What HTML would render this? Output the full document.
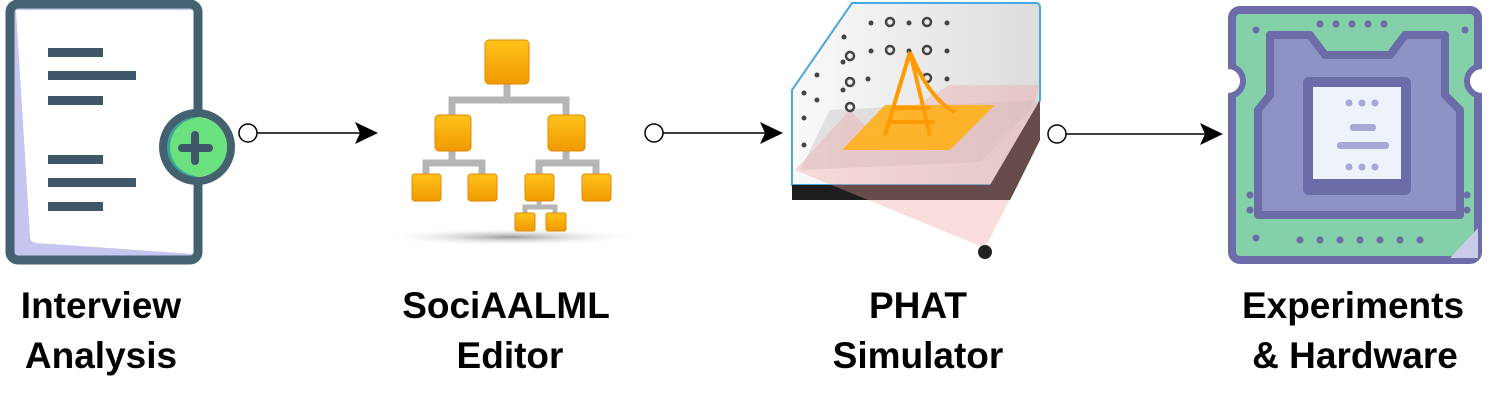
<!DOCTYPE html>
<html><head><meta charset="utf-8"><style>
body{margin:0;background:#fff;width:1500px;height:400px;overflow:hidden}
text{font-family:"Liberation Sans",sans-serif;font-weight:bold;font-size:37px;fill:#000}
</style></head><body>
<svg width="1500" height="400" viewBox="0 0 1500 400">
<defs>
<radialGradient id="sh"><stop offset="0" stop-color="#999"/><stop offset="1" stop-color="#fff" stop-opacity="0"/></radialGradient>
<linearGradient id="or" x1="0" y1="0" x2="0" y2="1"><stop offset="0" stop-color="#ffc21a"/><stop offset="1" stop-color="#f09a00"/></linearGradient>
<linearGradient id="wall" x1="0" y1="0" x2="1" y2="0"><stop offset="0" stop-color="#fafafa"/><stop offset="1" stop-color="#dcdcdc"/></linearGradient>
<clipPath id="cc"><circle cx="197" cy="147" r="30"/></clipPath>
</defs>
<!-- doc -->
<rect x="12" y="6" width="184" height="252" fill="#c5c5ef"/>
<path d="M16,10 L194,10 L194,254 L36,243 Q30,242 30,236z" fill="#fff"/>
<rect x="10" y="4" width="188" height="256" rx="8" fill="none" stroke="#44616f" stroke-width="9"/>
<g fill="#3e5868"><rect x="48" y="48" width="55" height="9"/><rect x="48" y="71" width="88" height="9"/><rect x="48" y="96" width="55" height="9"/><rect x="48" y="155" width="55" height="9"/><rect x="48" y="178" width="88" height="9"/><rect x="48" y="202" width="55" height="9"/></g>
<circle cx="197" cy="147" r="38" fill="#44616f"/>
<g clip-path="url(#cc)">
<rect x="160" y="110" width="80" height="80" fill="#3aa39e"/>
<circle cx="203" cy="147" r="30" fill="#aaf57d"/>
<circle cx="199" cy="147" r="29" fill="#6ae07e"/>
</g>
<g stroke="#3e5868" stroke-width="8" stroke-linecap="round"><line x1="182" y1="148" x2="209" y2="148"/><line x1="195" y1="135" x2="195" y2="161"/></g>
<!-- connectors -->
<g stroke="#000" stroke-width="1.5" fill="#fff">
<line x1="257" y1="133" x2="360" y2="133"/><circle cx="248" cy="133" r="9"/>
<line x1="662" y1="133" x2="765" y2="133"/><circle cx="654" cy="133" r="9"/>
<line x1="1066" y1="134" x2="1205" y2="134"/><circle cx="1057" cy="134" r="9"/>
</g>
<g fill="#000"><path d="M355,122 L378,133 L355,144 L360,133z"/><path d="M760,122 L783,133 L760,144 L765,133z"/><path d="M1200,123 L1223,134 L1200,145 L1205,134z"/></g>
<!-- editor -->
<ellipse cx="510" cy="237" rx="130" ry="9" fill="url(#sh)"/>
<g fill="none" stroke="#b5b5b5" stroke-width="7">
<path d="M507,80 V100 M452,120 V100 H566 V120"/>
<path d="M452,150 V163 M426,180 V163 H482 V180 M566,150 V163 M539,180 V163 H596 V180"/>
<path d="M539,195 V207 M525,218 V207 H555 V218" stroke-width="5"/>
</g>
<g fill="url(#or)" stroke="#e08a00" stroke-width="1">
<rect x="485" y="40" width="44" height="44" rx="4"/>
<rect x="435" y="115" width="36" height="36" rx="4"/><rect x="548" y="115" width="37" height="36" rx="4"/>
<rect x="412" y="174" width="29" height="27" rx="3"/><rect x="468" y="174" width="29" height="27" rx="3"/><rect x="525" y="174" width="29" height="27" rx="3"/><rect x="582" y="174" width="29" height="27" rx="3"/>
<rect x="515" y="213" width="20" height="18" rx="2"/><rect x="546" y="213" width="20" height="18" rx="2"/>
</g>
<!-- PHAT -->
<path d="M852,3 L1036,3 Q1040,3 1040,8 L1040,100 L1010,185 L792,185 L792,90z" fill="url(#wall)" stroke="#4aa8e0" stroke-width="2"/>
<path d="M792,185 L990,185 L1040,100 L1040,140 L1010,200 L792,200z" fill="#1e1e1e"/>
<path d="M800,170 L980,162 L1040,100 L830,110z" fill="#ccc" opacity=".5"/>
<g fill="#f3a0a0" opacity=".35"><path d="M795,170 L985,248 L850,110z"/><path d="M840,150 L985,248 L1040,85 L950,85z"/><path d="M900,200 L985,248 L1040,140 L1040,100z"/></g>
<g fill="#444"><circle cx="871" cy="23" r="2.5"/><circle cx="909" cy="23" r="2.5"/><circle cx="947" cy="23" r="2.5"/><circle cx="871" cy="51" r="2.5"/><circle cx="909" cy="51" r="2.5"/><circle cx="947" cy="51" r="2.5"/><circle cx="868" cy="79" r="2.5"/><circle cx="947" cy="79" r="2.5"/><circle cx="844" cy="37" r="2.5"/><circle cx="843" cy="62" r="2.5"/><circle cx="843" cy="90" r="2.5"/><circle cx="817" cy="75" r="2.5"/><circle cx="817" cy="100" r="2.5"/><circle cx="804" cy="93" r="2.5"/><circle cx="804" cy="118" r="2.5"/><circle cx="804" cy="145" r="2.5"/></g>
<g fill="none" stroke="#444" stroke-width="2.5"><circle cx="890" cy="22" r="4"/><circle cx="927" cy="22" r="4"/><circle cx="890" cy="50" r="4"/><circle cx="927" cy="50" r="4"/><circle cx="927" cy="78" r="4"/><circle cx="850" cy="56" r="4"/><circle cx="850" cy="82" r="4"/><circle cx="850" cy="107" r="4"/></g>
<path d="M842,150 L885,105 L995,105 L950,150z" fill="#ffb01a" opacity=".9"/>
<g stroke="#ff9a00" stroke-width="4" fill="none"><path d="M910,52 L885,135 M910,52 L930,135 M910,52 Q930,100 955,112 M893,108 L930,108 M888,122 L935,122"/></g>
<circle cx="985" cy="252" r="7" fill="#222"/>
<!-- chip -->
<rect x="1232" y="10" width="246" height="250" rx="8" fill="#84d0a8" stroke="#6c6ca8" stroke-width="8"/>
<path d="M1228,66 A14,14 0 0 1 1228,96" fill="#fff" stroke="#6c6ca8" stroke-width="6"/>
<path d="M1482,66 A14,14 0 0 0 1482,96" fill="#fff" stroke="#6c6ca8" stroke-width="6"/>
<path d="M1270,35 H1310 L1325,55 H1390 L1405,35 H1445 V95 L1460,110 V215 H1258 V110 L1270,95z" fill="#8f92c4" stroke="#6c6ca8" stroke-width="8" stroke-linejoin="round"/>
<rect x="1303" y="77" width="108" height="118" rx="6" fill="#6c6ca8"/>
<rect x="1313" y="87" width="88" height="92" fill="#eef2fb"/>
<g fill="#a8a8d8"><rect x="1350" y="124" width="26" height="7" rx="3"/><rect x="1337" y="142" width="52" height="7" rx="3"/><circle cx="1349" cy="103" r="3.5"/><circle cx="1362" cy="103" r="3.5"/><circle cx="1375" cy="103" r="3.5"/><circle cx="1349" cy="167" r="3.5"/><circle cx="1362" cy="167" r="3.5"/><circle cx="1375" cy="167" r="3.5"/></g>
<g fill="#6c6ca8"><circle cx="1256" cy="30" r="3.5"/><circle cx="1465" cy="30" r="3.5"/><circle cx="1256" cy="238" r="3.5"/><circle cx="1320" cy="24" r="3.5"/><circle cx="1336" cy="24" r="3.5"/><circle cx="1352" cy="24" r="3.5"/><circle cx="1368" cy="24" r="3.5"/><circle cx="1384" cy="24" r="3.5"/><circle cx="1300" cy="240" r="3.5"/><circle cx="1320" cy="240" r="3.5"/><circle cx="1340" cy="240" r="3.5"/><circle cx="1360" cy="240" r="3.5"/><circle cx="1380" cy="240" r="3.5"/><circle cx="1400" cy="240" r="3.5"/><circle cx="1420" cy="240" r="3.5"/><circle cx="1250" cy="195" r="3.5"/><circle cx="1250" cy="210" r="3.5"/><circle cx="1467" cy="195" r="3.5"/><circle cx="1467" cy="210" r="3.5"/></g>
<path d="M1478,228 L1478,258 L1450,258z" fill="#c8cce8"/>
<!-- labels -->
<g text-anchor="middle">
<text x="101" y="318">Interview</text><text x="101" y="368">Analysis</text>
<text x="506" y="318">SociAALML</text><text x="510" y="368">Editor</text>
<text x="918" y="318">PHAT</text><text x="918" y="368">Simulator</text>
<text x="1353" y="318">Experiments</text><text x="1355" y="368">&amp; Hardware</text>
</g>
</svg>
</body></html>
